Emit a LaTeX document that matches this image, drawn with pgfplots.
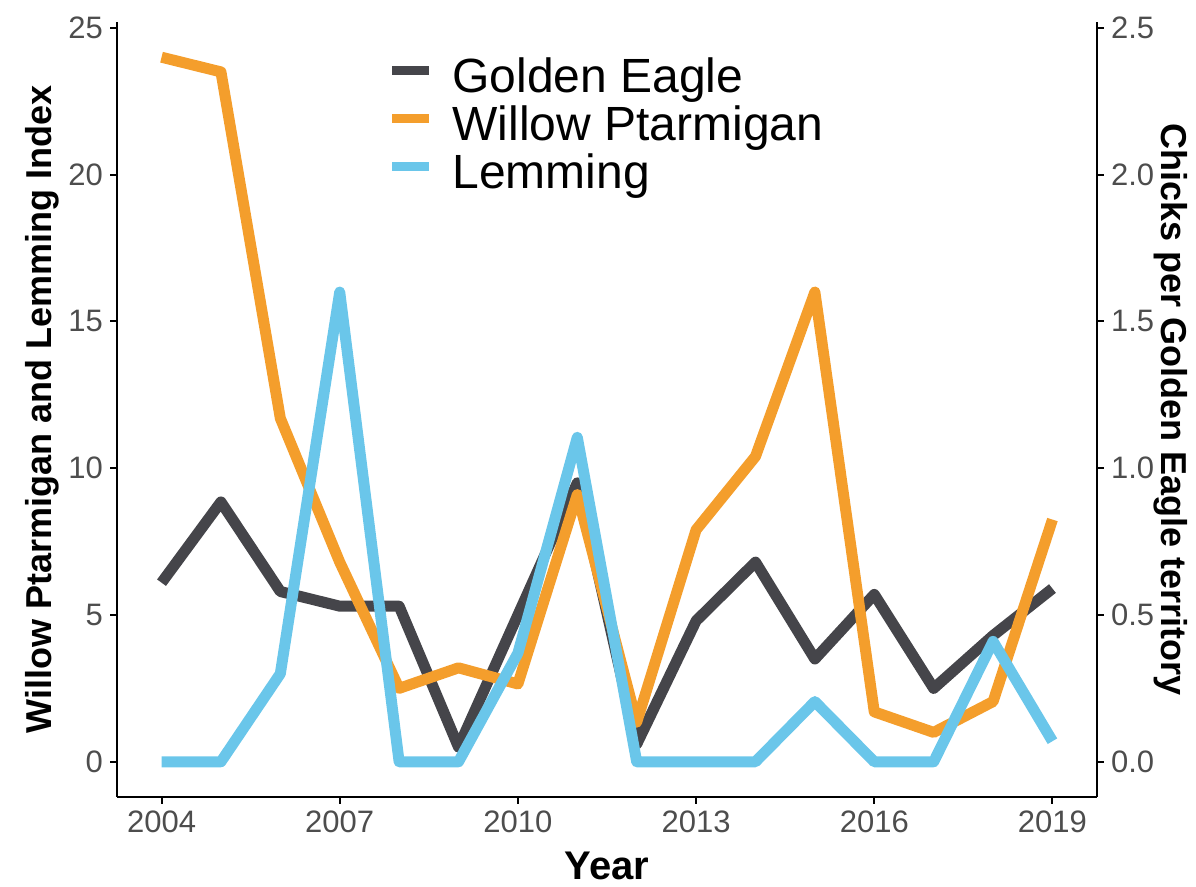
\documentclass[border=0pt]{standalone}
\usepackage{fontspec}
\setmainfont{Liberation Sans}
\usepackage{pgfplots}
\pgfplotsset{compat=1.18}

\definecolor{eagle}{HTML}{45454A}
\definecolor{willow}{HTML}{F49E2C}
\definecolor{lemming}{HTML}{6AC6EA}
\definecolor{ticktext}{HTML}{4D4D4D}

\pgfplotsset{
  common/.style={
    width=490pt, height=387.5pt, scale only axis,
    xmin=2003.25, xmax=2019.75,
    axis line style={black, line width=1pt},
    tick style={black, line width=1pt},
    major tick length=3.5pt, tick align=outside,
    ticklabel style={font=\fontsize{15.5}{15.5}\selectfont, text=ticktext},
    /pgf/number format/assume math mode=true,
    /pgf/number format/1000 sep={},
  },
  series/.style={line width=5.5pt, line join=round},
}

\begin{document}
\begin{tikzpicture}
\useasboundingbox (-58.5pt,-45pt) rectangle (539.5pt,398.5pt);

% right-hand scale: golden eagle productivity
\begin{axis}[common,
  axis x line=none, axis y line*=right,
  ymin=-0.12, ymax=2.52,
  ytick={0,0.5,1,1.5,2,2.5},
  yticklabel style={/pgf/number format/fixed,
    /pgf/number format/fixed zerofill,
    /pgf/number format/precision=1},
  ylabel={Chicks per Golden Eagle territory},
  every axis y label/.style={at={(axis description cs:1.0755,0.5)},
    rotate=-90, anchor=center, font=\bfseries\fontsize{18}{18}\selectfont},
]
\addplot[series, eagle] coordinates {
  (2004,0.61) (2005,0.885) (2006,0.58) (2007,0.53) (2008,0.53)
  (2009,0.05) (2010,0.50) (2011,0.95) (2012,0.06) (2013,0.48)
  (2014,0.68) (2015,0.35) (2016,0.57) (2017,0.25) (2018,0.43)
  (2019,0.59)};
\end{axis}

% left-hand scale: prey indices
\begin{axis}[common,
  axis x line*=bottom, axis y line*=left,
  ymin=-1.2, ymax=25.2,
  ytick={0,5,10,15,20,25},
  xtick={2004,2007,2010,2013,2016,2019},
  xlabel={Year},
  ylabel={Willow Ptarmigan and Lemming Index},
  every axis x label/.style={at={(axis description cs:0.5,-0.089)},
    anchor=center, font=\bfseries\fontsize{20}{20}\selectfont},
  every axis y label/.style={at={(axis description cs:-0.0765,0.5)},
    rotate=90, anchor=center, font=\bfseries\fontsize{18}{18}\selectfont},
  legend cell align=left,
  legend style={at={(axis description cs:0.2765,0.9555)}, anchor=north west,
    draw=none, fill=none, inner sep=0pt, outer sep=0pt,
    row sep=0pt, column sep=0pt,
    font=\fontsize{24}{24}\selectfont,
    nodes={inner sep=0pt, text depth=}},
  legend image code/.code={
    \draw[#1, line width=4.5pt, line cap=butt] (0pt,5pt) -- (18.5pt,5pt);
    \path[draw=none, fill=none] (0pt,-12pt) rectangle (30pt,12pt);},
]
\addlegendimage{eagle}
\addlegendentry{Golden Eagle}
\addplot[series, willow] coordinates {
  (2004,24.0) (2005,23.5) (2006,11.7) (2007,6.8) (2008,2.5)
  (2009,3.2) (2010,2.65) (2011,9.1) (2012,1.35) (2013,7.9)
  (2014,10.4) (2015,16.0) (2016,1.7) (2017,1.0) (2018,2.05)
  (2019,8.25)};
\addlegendentry{Willow Ptarmigan}
\addplot[series, lemming] coordinates {
  (2004,0) (2005,0) (2006,3.0) (2007,16.0) (2008,0)
  (2009,0) (2010,3.7) (2011,11.05) (2012,0) (2013,0)
  (2014,0) (2015,2.05) (2016,0) (2017,0) (2018,4.1)
  (2019,0.7)};
\addlegendentry{Lemming}
\end{axis}
\end{tikzpicture}
\end{document}
